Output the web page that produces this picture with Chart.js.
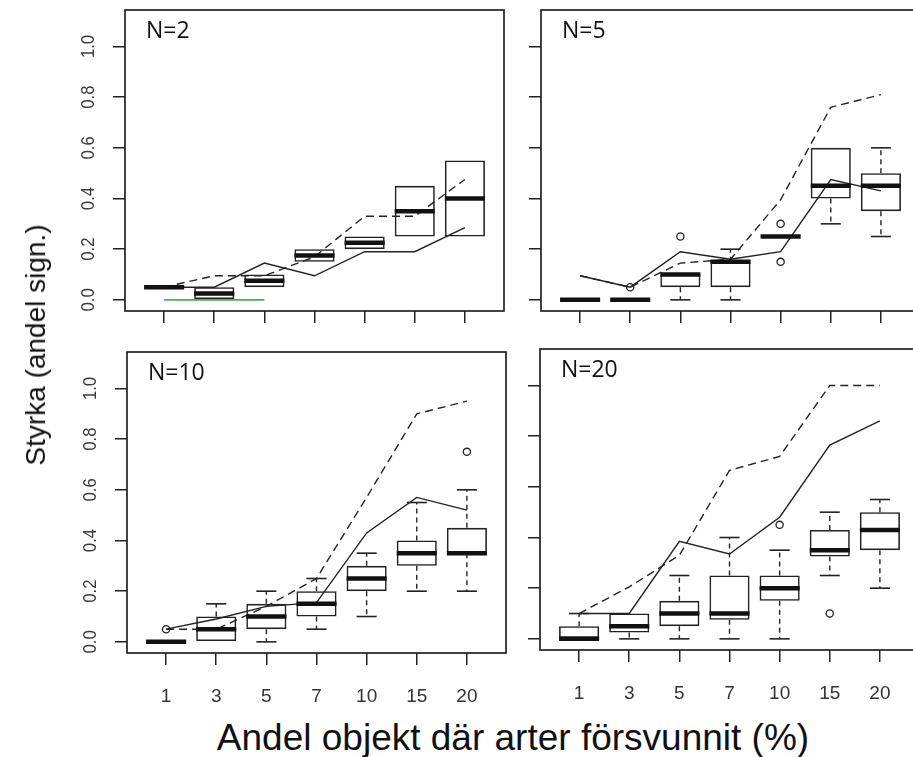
<!DOCTYPE html>
<html><head><meta charset="utf-8">
<script src="https://cdn.jsdelivr.net/npm/chart.js@4.4.1/dist/chart.umd.min.js"></script>
<style>
html,body{margin:0;padding:0;background:#fff;overflow:hidden;width:913px;height:757px;position:relative;}
canvas{position:absolute;}
.t{position:absolute;font-family:"Liberation Sans",Arial,sans-serif;color:#111;white-space:nowrap;line-height:1;}
#ytitle{left:36px;top:345px;font-size:28px;transform:translate(-50%,-50%) rotate(-90deg);}
#xtitle{left:513px;top:737px;font-size:37px;transform:translate(-50%,-50%);}
</style></head><body>
<canvas id="c1"></canvas><canvas id="c2"></canvas><canvas id="c3"></canvas><canvas id="c4"></canvas>
<div class="t" id="ytitle">Styrka (andel sign.)</div>
<div class="t" id="xtitle">Andel objekt där arter försvunnit (%)</div>
<script>
// ---------- data ----------
const categories = ["1","3","5","7","10","15","20"];
const positions = [1,2,3,4,5,6,7];
const yTicks = [0,0.2,0.4,0.6,0.8,1.0];
const yTickLabels = ["0.0","0.2","0.4","0.6","0.8","1.0"];

// N=2
const q1N2  = [0.05,0.00,0.05,0.15,0.20,0.25,0.25];
const medN2 = [0.05,0.025,0.075,0.175,0.225,0.35,0.40];
const q3N2  = [0.05,0.05,0.10,0.20,0.25,0.45,0.55];
const loN2  = [0.05,0.00,0.05,0.15,0.20,0.25,0.25];
const hiN2  = [0.05,0.05,0.10,0.20,0.25,0.45,0.55];
const outN2 = [];
const solidN2  = [0.05,0.05,0.145,0.095,0.19,0.19,0.285];
const dashedN2 = [0.05,0.095,0.095,0.17,0.33,0.33,0.475];
const greenN2  = [[1,0],[3,0]];

// N=5
const q1N5  = [0,0,0.05,0.05,0.25,0.40,0.35];
const medN5 = [0,0,0.10,0.15,0.25,0.45,0.45];
const q3N5  = [0,0,0.10,0.15,0.25,0.60,0.50];
const loN5  = [0,0,0,0,0.25,0.30,0.25];
const hiN5  = [0,0,0.10,0.20,0.25,0.60,0.60];
const outN5 = [[2,0.05],[3,0.25],[5,0.30],[5,0.15]];
const solidN5  = [0.095,0.05,0.19,0.16,0.19,0.475,0.43];
const dashedN5 = [0.095,0.05,0.145,0.16,0.395,0.76,0.81];

// N=10
const q1N10  = [0,0,0.05,0.10,0.20,0.30,0.35];
const medN10 = [0,0.05,0.10,0.15,0.25,0.35,0.35];
const q3N10  = [0,0.10,0.15,0.20,0.30,0.40,0.45];
const loN10  = [0,0,0,0.05,0.10,0.20,0.20];
const hiN10  = [0,0.15,0.20,0.25,0.35,0.55,0.60];
const outN10 = [[1,0.05],[7,0.75]];
const solidN10  = [0.05,0.09,0.14,0.155,0.43,0.57,0.52];
const dashedN10 = [0.05,0.05,0.14,0.25,0.57,0.90,0.95];

// N=20
const q1N20  = [0,0.025,0.05,0.075,0.15,0.325,0.35];
const medN20 = [0,0.05,0.10,0.10,0.20,0.35,0.43];
const q3N20  = [0.05,0.10,0.15,0.25,0.25,0.43,0.50];
const loN20  = [0,0,0,0,0,0.25,0.20];
const hiN20  = [0.10,0.10,0.25,0.40,0.35,0.50,0.55];
const outN20 = [[5,0.45],[6,0.10]];
const solidN20  = [0.10,0.10,0.385,0.335,0.48,0.765,0.86];
const dashedN20 = [0.10,0.205,0.33,0.665,0.72,1.0,1.0];

// ---------- layout ----------
const PW = 379, PH = 301, ML = 125, MT = 10, MR = 10, MB = 60;
const panels = [
  {id:'c1', label:'N=2',  q1:q1N2,  med:medN2,  q3:q3N2,  lo:loN2,  hi:hiN2,  out:outN2,  solid:solidN2,  dashed:dashedN2,  green:greenN2, left:125, top:10,  showY:true,  showX:false},
  {id:'c2', label:'N=5',  q1:q1N5,  med:medN5,  q3:q3N5,  lo:loN5,  hi:hiN5,  out:outN5,  solid:solidN5,  dashed:dashedN5,  green:null,    left:541, top:10,  showY:false, showX:false},
  {id:'c3', label:'N=10', q1:q1N10, med:medN10, q3:q3N10, lo:loN10, hi:hiN10, out:outN10, solid:solidN10, dashed:dashedN10, green:null,    left:127, top:352, showY:true,  showX:true},
  {id:'c4', label:'N=20', q1:q1N20, med:medN20, q3:q3N20, lo:loN20, hi:hiN20, out:outN20, solid:solidN20, dashed:dashedN20, green:null,    left:540, top:349, showY:false, showX:true}
];

const INK = '#222';

const boxPlugin = {
  id:'boxparts',
  beforeDatasetsDraw(chart){
    const p = chart.options.plugins.boxparts.panel;
    const xs = chart.scales.x, ys = chart.scales.y, ctx = chart.ctx;
    ctx.save();
    ctx.strokeStyle = INK;
    positions.forEach((pos,i)=>{
      const x = xs.getPixelForValue(pos);
      const capHalf = (xs.getPixelForValue(pos+0.2) - xs.getPixelForValue(pos-0.2))/2;
      const segs = [];
      if (p.lo[i] < p.q1[i]) segs.push([p.q1[i], p.lo[i]]);
      if (p.hi[i] > p.q3[i]) segs.push([p.q3[i], p.hi[i]]);
      segs.forEach(([a,b])=>{
        ctx.lineWidth = 1.4; ctx.setLineDash([5,4]);
        ctx.beginPath(); ctx.moveTo(x, ys.getPixelForValue(a)); ctx.lineTo(x, ys.getPixelForValue(b)); ctx.stroke();
        ctx.setLineDash([]); ctx.lineWidth = 1.6;
        const yb = ys.getPixelForValue(b);
        ctx.beginPath(); ctx.moveTo(x-capHalf, yb); ctx.lineTo(x+capHalf, yb); ctx.stroke();
      });
    });
    ctx.restore();
  },
  afterDatasetsDraw(chart){
    const p = chart.options.plugins.boxparts.panel;
    const xs = chart.scales.x, ys = chart.scales.y, ctx = chart.ctx;
    ctx.save();
    ctx.strokeStyle = '#111';
    ctx.lineWidth = 4.5; ctx.lineCap = 'butt';
    positions.forEach((pos,i)=>{
      const xl = xs.getPixelForValue(pos-0.4), xr = xs.getPixelForValue(pos+0.4);
      const y = ys.getPixelForValue(p.med[i]);
      ctx.beginPath(); ctx.moveTo(xl,y); ctx.lineTo(xr,y); ctx.stroke();
    });
    ctx.restore();
  },
  afterDraw(chart){
    const p = chart.options.plugins.boxparts.panel;
    const a = chart.chartArea, ctx = chart.ctx, ys = chart.scales.y;
    ctx.save();
    ctx.strokeStyle = INK; ctx.lineWidth = 1.7;
    ctx.strokeRect(a.left, a.top, a.right-a.left, a.bottom-a.top);
    ctx.fillStyle = '#111';
    ctx.font = '23px "Open Sans", "Noto Sans", sans-serif';
    ctx.textAlign = 'left'; ctx.textBaseline = 'alphabetic';
    ctx.fillText(p.label, a.left + 21, a.top + 28);
    if (p.showY){
      ctx.fillStyle = '#3a3a3a';
      ctx.font = '19px "Liberation Sans", Arial, sans-serif';
      ctx.textAlign = 'center'; ctx.textBaseline = 'middle';
      yTicks.forEach((v,k)=>{
        const y = ys.getPixelForValue(v);
        ctx.save();
        ctx.translate(a.left - 36, y);
        ctx.rotate(-Math.PI/2);
        ctx.scale(0.88,1);
        ctx.fillText(yTickLabels[k], 0, 0);
        ctx.restore();
      });
    }
    ctx.restore();
  }
};

panels.forEach(p=>{
  const cv = document.getElementById(p.id);
  const W = ML + PW + MR, H = MT + PH + MB;
  cv.width = W; cv.height = H;
  cv.style.left = (p.left - ML) + 'px';
  cv.style.top = (p.top - MT) + 'px';
  cv.style.width = W + 'px'; cv.style.height = H + 'px';

  const datasets = [
    {type:'line', data: p.solid.map((v,i)=>({x:positions[i], y:v})), borderColor:INK, borderWidth:1.4, pointRadius:0, tension:0, fill:false, order:0},
    {type:'line', data: p.dashed.map((v,i)=>({x:positions[i], y:v})), borderColor:INK, borderWidth:1.4, borderDash:[8,5], pointRadius:0, tension:0, fill:false, order:0},
    {type:'scatter', data: p.out.map(o=>({x:o[0], y:o[1]})), pointStyle:'circle', pointRadius:3.6, borderColor:INK, backgroundColor:'rgba(0,0,0,0)', borderWidth:1.3, order:0},
    {type:'bar', data: positions.map((pos,i)=>({x:pos, y: p.q1[i]===p.q3[i] ? null : [p.q1[i], p.q3[i]]})), backgroundColor:'rgba(0,0,0,0)', borderColor:INK, borderWidth:1.6, borderSkipped:false, barPercentage:0.8, categoryPercentage:1.0, order:2}
  ];
  if (p.green){
    datasets.unshift({type:'line', data: p.green.map(g=>({x:g[0], y:g[1]})), borderColor:'#4cb04c', borderWidth:1.6, pointRadius:0, fill:false, order:1});
  }

  new Chart(cv.getContext('2d'), {
    type:'bar',
    data:{datasets},
    options:{
      responsive:false, animation:false, devicePixelRatio:1,
      layout:{padding:{top:MT, right:MR, left:0, bottom:0}},
      plugins:{legend:{display:false}, tooltip:{enabled:false}, boxparts:{panel:p}},
      scales:{
        x:{type:'linear', min:0.22, max:7.78, offset:false,
           afterBuildTicks:s=>{ s.ticks = positions.map(v=>({value:v})); },
           afterFit:s=>{ s.height = MB; },
           ticks:{display:p.showX, autoSkip:false, maxRotation:0, minRotation:0, padding:20, color:'#333',
                  font:{family:'"Liberation Sans", Arial, sans-serif', size:19},
                  callback:(v)=>categories[Math.round(v)-1]},
           grid:{display:true, offset:false, drawOnChartArea:false, drawTicks:true, tickLength:12, tickColor:INK, lineWidth:1.5},
           border:{display:false}},
        y:{type:'linear', min:-0.044, max:1.144, beginAtZero:false,
           afterBuildTicks:s=>{ s.ticks = yTicks.map(v=>({value:v})); },
           afterFit:s=>{ s.width = ML; },
           ticks:{display:false},
           grid:{display:true, drawOnChartArea:false, drawTicks:true, tickLength:12, tickColor:INK, lineWidth:1.5},
           border:{display:false}}
      }
    },
    plugins:[boxPlugin]
  });
});
</script>
</body></html>
